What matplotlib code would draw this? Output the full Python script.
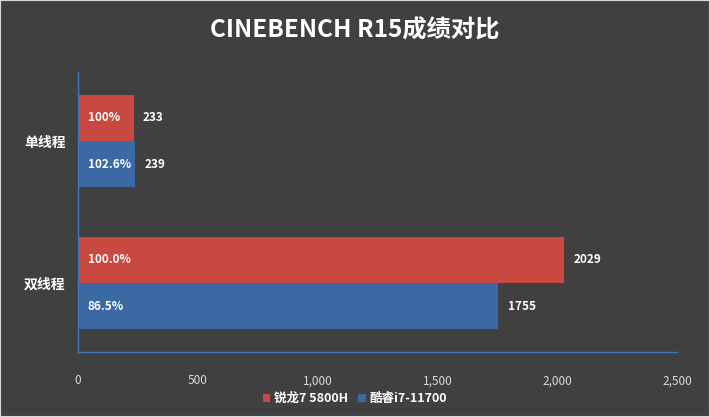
import numpy as np
import matplotlib.pyplot as plt

plt.rcParams['font.family'] = ['Noto Sans CJK SC', 'DejaVu Sans']

categories = ['单线程', '双线程']
series_names = ['锐龙7 5800H', '酷睿i7-11700']
amd_scores = [233, 2029]
intel_scores = [239, 1755]
amd_pct = ['100%', '100.0%']
intel_pct = ['102.6%', '86.5%']

bg = '#404040'
red = '#C9483F'
blue = '#3A69A4'

fig = plt.figure(figsize=(7.1, 4.17), dpi=100, facecolor=bg)
ax = fig.add_axes([0.1099, 0.156, 0.8436, 0.671], facecolor=bg)

y = np.arange(len(categories))
h = 0.327
ax.barh(y - h / 2, amd_scores, height=h, color=red, label=series_names[0])
ax.barh(y + h / 2, intel_scores, height=h, color=blue, label=series_names[1])

for i in range(len(categories)):
    ax.text(40, y[i] - h / 2, amd_pct[i], color='white', fontsize=8.5,
            fontweight='bold', va='center', ha='left')
    ax.text(40, y[i] + h / 2, intel_pct[i], color='white', fontsize=8.5,
            fontweight='bold', va='center', ha='left')
    ax.text(amd_scores[i] + 38, y[i] - h / 2, str(amd_scores[i]), color='white',
            fontsize=8.5, fontweight='bold', va='center', ha='left')
    ax.text(intel_scores[i] + 38, y[i] + h / 2, str(intel_scores[i]), color='white',
            fontsize=8.5, fontweight='bold', va='center', ha='left')

ax.set_xlim(0, 2500)
ax.set_ylim(1.486, -0.486)
ax.set_xticks(range(0, 2501, 500))
ax.set_xticklabels(['0', '500', '1,000', '1,500', '2,000', '2,500'])
ax.set_yticks(y)
ax.set_yticklabels(categories, fontsize=10, fontweight='bold', color='white')
ax.tick_params(axis='x', colors='#D9D9D9', labelsize=8.5, length=0, pad=16)
ax.tick_params(axis='y', length=0, pad=9)

for s in ['top', 'right']:
    ax.spines[s].set_visible(False)
for s in ['left', 'bottom']:
    ax.spines[s].set_color('#4472C4')
    ax.spines[s].set_linewidth(1)

fig.text(0.5, 0.928, 'CINEBENCH R15成绩对比', color='white', fontsize=17.5,
         fontweight='bold', ha='center', va='center')

leg = fig.legend(loc='center', bbox_to_anchor=(0.5, 0.044), ncol=2, frameon=False,
                 fontsize=9, handlelength=0.6, handleheight=0.6, handletextpad=0.3,
                 columnspacing=0.8)
for t in leg.get_texts():
    t.set_color('white')
    t.set_fontweight('bold')

fig.patches.append(plt.Rectangle((0, 0), 1, 1, transform=fig.transFigure,
                                 fill=False, edgecolor='#D9D9D9', linewidth=1.5))

fig.savefig('out.png', dpi=100, facecolor=bg)
